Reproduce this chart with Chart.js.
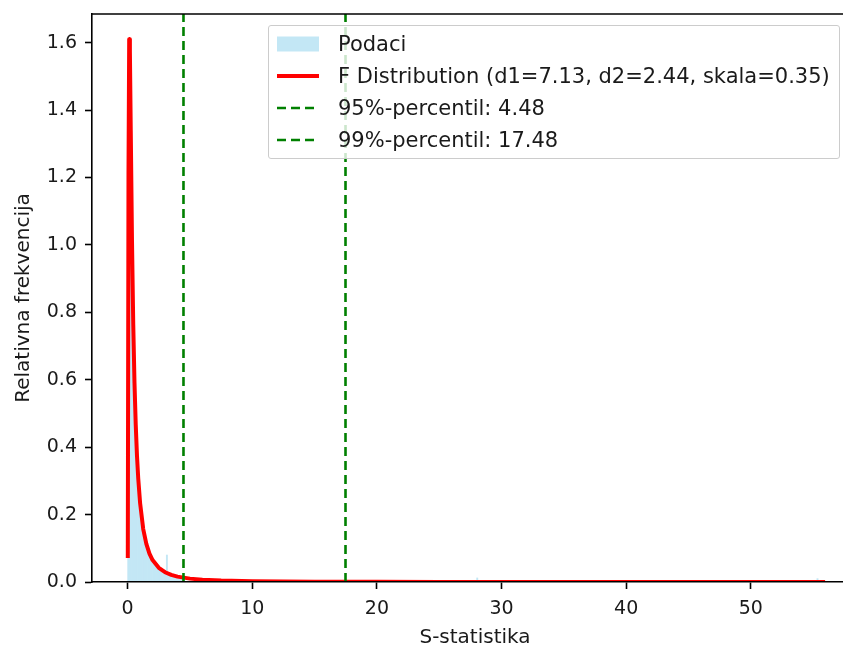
<!DOCTYPE html>
<html>
<head>
<meta charset="utf-8">
<title>F distribucija</title>
<script src="https://cdn.jsdelivr.net/npm/chart.js@4"></script>
<style>
  html, body { margin: 0; padding: 0; background: #fff; overflow: hidden; }
  #wrap { position: relative; width: 858px; height: 648px; }
  #legend {
    position: absolute; left: 268px; top: 25px;
    border: 1px solid #cccccc; border-radius: 3px;
    background: rgba(255, 255, 255, 0.8);
    padding: 6px 9px 6px 8px;
    font: 21px "DejaVu Sans", sans-serif; color: #1a1a1a;
  }
  #legend .row { display: flex; align-items: center; height: 24px; white-space: nowrap; }
  #legend .row + .row { margin-top: 8px; }
  #legend .handle { width: 42px; height: 24px; margin-right: 19px; flex: none; }
</style>
</head>
<body>
<div id="wrap">
  <canvas id="fChart" width="858" height="648"></canvas>
  <div id="legend"></div>
</div>
<script>
// histogram of the S statistic (relative frequency, bin centres)
const binCenters = [0.05, 0.15, 0.25, 0.35, 0.45, 0.55, 0.65, 0.75, 0.85, 0.95,
  1.05, 1.15, 1.25, 1.35, 1.45, 1.55, 1.65, 1.75, 1.85, 1.95,
  2.05, 2.15, 2.25, 2.35, 2.45, 2.55, 2.65, 2.75, 2.85, 2.95,
  3.05, 3.15, 3.25, 3.35, 3.45, 3.55, 3.65, 3.75, 3.85, 3.95,
  4.05, 4.15, 4.25, 4.35, 4.45, 28.05, 55.35];
const binHeights = [0.72, 1.58, 1.31, 1.02, 0.75, 0.6, 0.46, 0.37, 0.31, 0.25,
  0.21, 0.185, 0.155, 0.14, 0.118, 0.108, 0.092, 0.086, 0.074, 0.068,
  0.061, 0.057, 0.05, 0.047, 0.043, 0.039, 0.037, 0.033, 0.031, 0.029,
  0.027, 0.08, 0.024, 0.022, 0.021, 0.019, 0.018, 0.017, 0.016, 0.015,
  0.014, 0.013, 0.012, 0.011, 0.011, 0.012, 0.01];

// fitted F density (d1=7.13, d2=2.44, skala=0.35)
const curveX = [0.012, 0.068, 0.124, 0.18, 0.25, 0.35, 0.45, 0.55, 0.65, 0.75,
  0.85, 1.0, 1.25, 1.5, 1.75, 2.0, 2.5, 3.0, 3.5, 4.0,
  5.0, 6.0, 7.5, 10, 12.5, 15, 20, 25, 30, 40, 50, 55.8];
const curveY = [0.077, 1.21, 1.61, 1.575, 1.34, 1.01, 0.764, 0.59, 0.466, 0.374,
  0.307, 0.234, 0.157, 0.113, 0.084, 0.065, 0.042, 0.029, 0.021, 0.016,
  0.01, 0.0068, 0.0042, 0.0023, 0.0014, 0.0009, 0.0005, 0.0003, 0.0002, 0.0001, 0.00007, 0.00005];

const percentile95 = 4.48;
const percentile99 = 17.48;

const xTickValues = [0, 10, 20, 30, 40, 50];
const yTickValues = [0, 0.2, 0.4, 0.6, 0.8, 1.0, 1.2, 1.4, 1.6];

const xMin = -2.86, xMax = 58.6;
const yMin = 0, yMax = 1.685;

const font = 'DejaVu Sans';
const textColor = '#1a1a1a';
const histColor = 'rgb(195, 231, 245)';

function vline(x) {
  return [{ x: x, y: yMin }, { x: x, y: yMax }];
}

// matplotlib-like top spine
const topSpine = {
  id: 'topSpine',
  afterDraw(chart) {
    const { ctx, chartArea } = chart;
    ctx.save();
    ctx.strokeStyle = '#000';
    ctx.lineWidth = 1.6;
    ctx.beginPath();
    ctx.moveTo(chartArea.left - 0.8, chartArea.top);
    ctx.lineTo(chartArea.right, chartArea.top);
    ctx.stroke();
    ctx.restore();
  }
};

const datasets = [
  {
    type: 'bar',
    label: 'Podaci',
    data: binCenters.map((x, i) => ({ x: x, y: binHeights[i] })),
    backgroundColor: histColor,
    borderWidth: 0,
    barPercentage: 1,
    categoryPercentage: 1,
    grouped: false,
    order: 3
  },
  {
    type: 'line',
    label: 'F Distribution (d1=7.13, d2=2.44, skala=0.35)',
    data: curveX.map((x, i) => ({ x: x, y: curveY[i] })),
    borderColor: 'red',
    borderWidth: 4,
    borderCapStyle: 'square',
    borderJoinStyle: 'round',
    pointRadius: 0,
    fill: false,
    tension: 0,
    clip: 0,
    order: 2
  },
  {
    type: 'line',
    label: '95%-percentil: ' + percentile95.toFixed(2),
    data: vline(percentile95),
    borderColor: 'green',
    borderWidth: 2.6,
    borderDash: [9, 5],
    pointRadius: 0,
    fill: false,
    clip: 0,
    order: 1
  },
  {
    type: 'line',
    label: '99%-percentil: ' + percentile99.toFixed(2),
    data: vline(percentile99),
    borderColor: 'green',
    borderWidth: 2.6,
    borderDash: [9, 5],
    pointRadius: 0,
    fill: false,
    clip: 0,
    order: 0
  }
];

const tickGrid = {
  drawOnChartArea: false,
  drawTicks: true,
  offset: false,
  tickLength: 7,
  tickWidth: 1.6,
  tickColor: '#000'
};
const axisBorder = { display: true, color: '#000', width: 1.6, z: 1 };

const chart = new Chart(document.getElementById('fChart').getContext('2d'), {
  type: 'bar',
  data: { datasets: datasets },
  plugins: [topSpine],
  options: {
    responsive: false,
    animation: false,
    devicePixelRatio: 1,
    layout: { padding: { top: 14, right: 0, bottom: 0, left: 0 } },
    plugins: {
      legend: { display: false },
      tooltip: { enabled: false }
    },
    scales: {
      x: {
        type: 'linear',
        offset: false,
        min: xMin,
        max: xMax,
        afterBuildTicks: (axis) => { axis.ticks = xTickValues.map(v => ({ value: v })); },
        afterFit: (axis) => {
          axis.height = 66;
          axis.paddingLeft = 0;
          axis.paddingRight = 0;
        },
        ticks: {
          font: { family: font, size: 19 },
          color: textColor,
          padding: 9,
          maxRotation: 0,
          autoSkip: false,
          callback: (v) => String(v)
        },
        grid: tickGrid,
        border: axisBorder,
        title: {
          display: true,
          text: 'S-statistika',
          color: textColor,
          font: { family: font, size: 20, lineHeight: 1.0 },
          padding: { top: 0, bottom: 0 }
        }
      },
      y: {
        type: 'linear',
        min: yMin,
        max: yMax,
        afterBuildTicks: (axis) => { axis.ticks = yTickValues.map(v => ({ value: v })); },
        afterFit: (axis) => {
          axis.width = 92;
          axis.paddingTop = 0;
          axis.paddingBottom = 0;
        },
        ticks: {
          font: { family: font, size: 19 },
          color: textColor,
          padding: 8,
          autoSkip: false,
          callback: (v) => Number(v).toFixed(1)
        },
        grid: tickGrid,
        border: axisBorder,
        title: {
          display: true,
          text: 'Relativna frekvencija',
          color: textColor,
          font: { family: font, size: 20, lineHeight: 1.0 },
          padding: { top: 14, bottom: 0 }
        }
      }
    }
  }
});

// legend box drawn from the dataset styles
const legendEl = document.getElementById('legend');
const svgNS = 'http://www.w3.org/2000/svg';
chart.data.datasets.forEach((ds) => {
  const row = document.createElement('div');
  row.className = 'row';
  const handle = document.createElementNS(svgNS, 'svg');
  handle.setAttribute('class', 'handle');
  handle.setAttribute('width', '42');
  handle.setAttribute('height', '24');
  if (ds.type === 'bar') {
    const r = document.createElementNS(svgNS, 'rect');
    r.setAttribute('x', '0');
    r.setAttribute('y', '4.5');
    r.setAttribute('width', '42');
    r.setAttribute('height', '15');
    r.setAttribute('fill', ds.backgroundColor);
    handle.appendChild(r);
  } else {
    const l = document.createElementNS(svgNS, 'line');
    l.setAttribute('x1', '0');
    l.setAttribute('x2', '42');
    l.setAttribute('y1', '12');
    l.setAttribute('y2', '12');
    l.setAttribute('stroke', ds.borderColor);
    l.setAttribute('stroke-width', String(ds.borderWidth));
    if (ds.borderDash) l.setAttribute('stroke-dasharray', ds.borderDash.join(' '));
    handle.appendChild(l);
  }
  const text = document.createElement('span');
  text.textContent = ds.label;
  row.appendChild(handle);
  row.appendChild(text);
  legendEl.appendChild(row);
});
</script>
</body>
</html>
